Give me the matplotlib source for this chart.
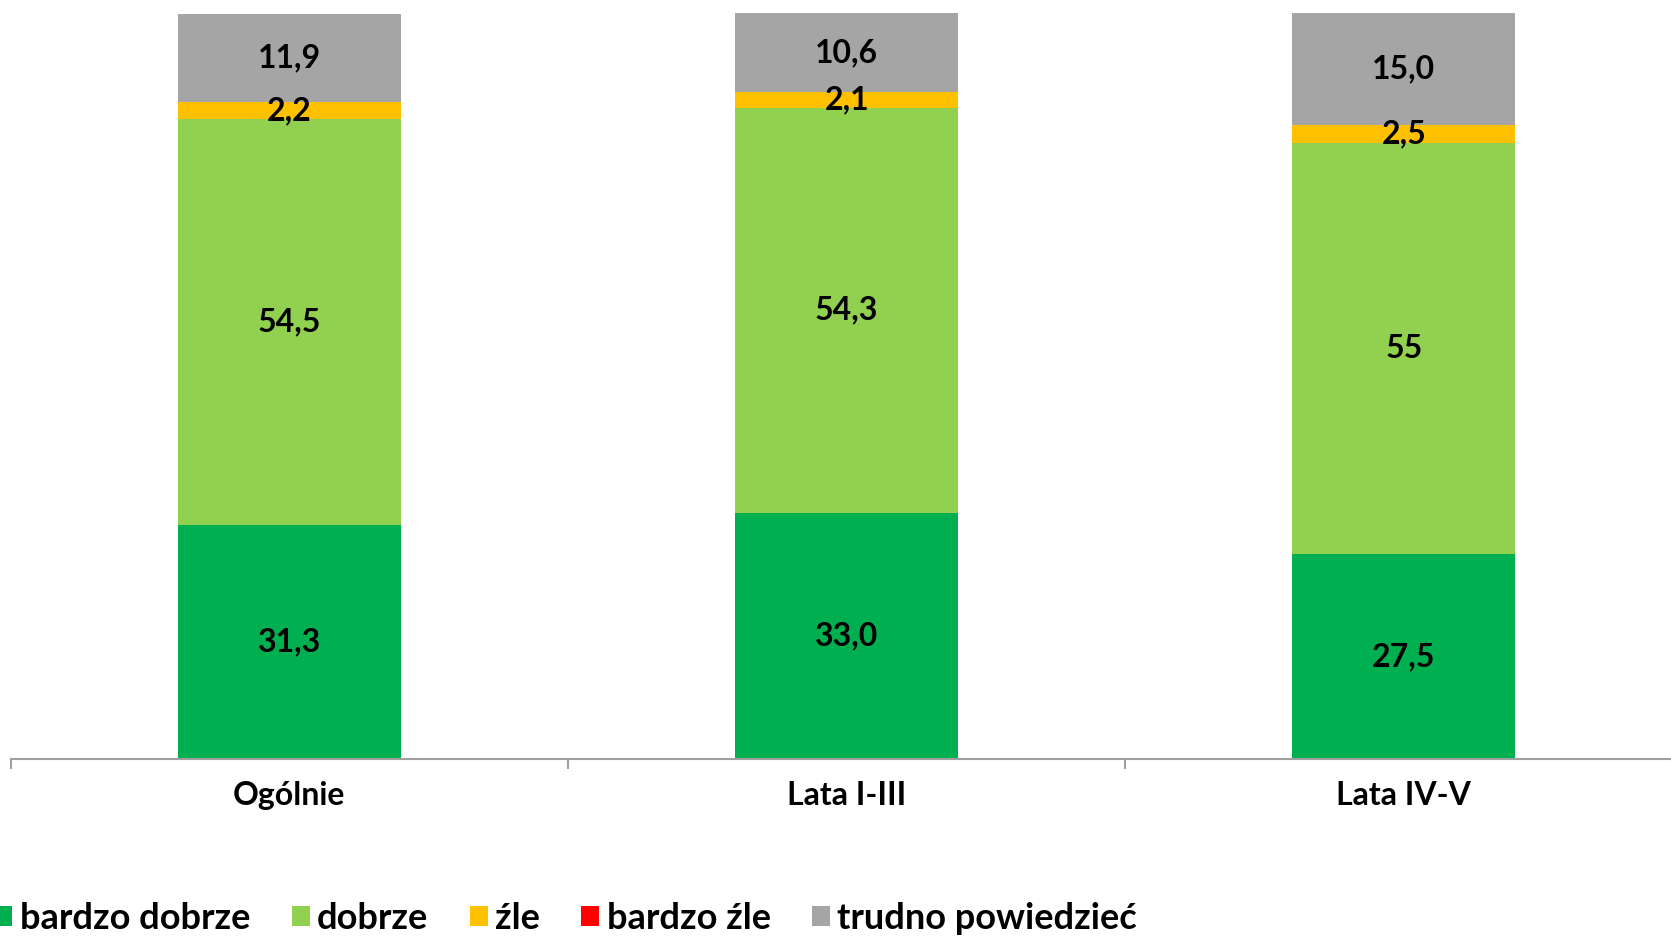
import matplotlib.pyplot as plt
from matplotlib.patches import Patch

# dane
kategorie = ['Ogólnie', 'Lata I-III', 'Lata IV-V']
bardzo_dobrze = [31.3, 33.0, 27.5]
dobrze = [54.5, 54.3, 55.0]
zle = [2.2, 2.1, 2.5]
bardzo_zle = [0.0, 0.0, 0.0]
trudno = [11.9, 10.6, 15.0]

etykiety_bardzo_dobrze = ['31,3', '33,0', '27,5']
etykiety_dobrze = ['54,5', '54,3', '55']
etykiety_zle = ['2,2', '2,1', '2,5']
etykiety_trudno = ['11,9', '10,6', '15,0']

nazwy_serii = ['bardzo dobrze', 'dobrze', 'źle', 'bardzo źle', 'trudno powiedzieć']
kolory = ['#00B050', '#92D050', '#FFC000', '#FF0000', '#A5A5A5']

plt.rcParams['font.family'] = ['Lato', 'DejaVu Sans']

fig = plt.figure(figsize=(16.71, 9.41), dpi=100)
ax = fig.add_axes([0.00634, 0.1934, 1.0006, 0.793])

x = list(range(len(kategorie)))
serie = [bardzo_dobrze, dobrze, zle, bardzo_zle, trudno]
etykiety = [etykiety_bardzo_dobrze, etykiety_dobrze, etykiety_zle, None, etykiety_trudno]

dol = [0.0] * len(kategorie)
for wartosci, kolor, teksty in zip(serie, kolory, etykiety):
    ax.bar(x, wartosci, bottom=dol, width=0.4, color=kolor, linewidth=0)
    if teksty is not None:
        for i, (v, t) in enumerate(zip(wartosci, teksty)):
            if v > 0:
                ax.text(i, dol[i] + v / 2, t, ha='center', va='center',
                        fontsize=23, fontweight='bold', color='black')
    dol = [d + v for d, v in zip(dol, wartosci)]

ax.set_xlim(-0.5, 2.5)
ax.set_ylim(0, 100)
for s in ['top', 'right', 'left']:
    ax.spines[s].set_visible(False)
ax.spines['bottom'].set_color('#A0A0A0')
ax.spines['bottom'].set_linewidth(1.5)
ax.set_yticks([])

ax.set_xticks([-0.5, 0.5, 1.5, 2.5])
ax.set_xticklabels([])
ax.tick_params(axis='x', which='major', length=7, width=1.5, color='#A0A0A0')
ax.set_xticks(x, minor=True)
ax.set_xticklabels(kategorie, minor=True, fontsize=23, fontweight='bold')
ax.tick_params(axis='x', which='minor', length=0, pad=16)

uchwyty = [Patch(facecolor=c, edgecolor='none') for c in kolory]
fig.legend(uchwyty, nazwy_serii, loc='center left', bbox_to_anchor=(-0.012, 0.024),
           ncol=5, frameon=False, prop={'weight': 'bold', 'size': 26},
           handlelength=0.5, handleheight=0.5,
           handletextpad=0.2, columnspacing=1.15, borderaxespad=0)

fig.savefig('out.png', dpi=100)
